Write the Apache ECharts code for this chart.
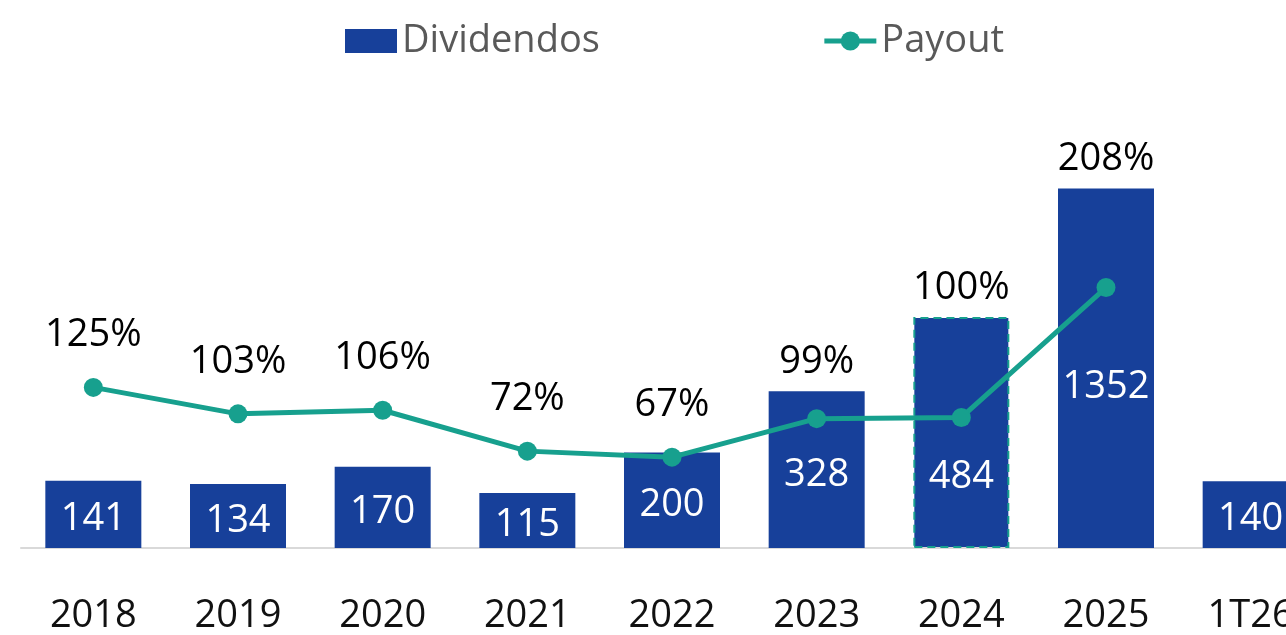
<!DOCTYPE html>
<html>
<head>
<meta charset="utf-8">
<script src="https://cdn.jsdelivr.net/npm/echarts@6/dist/echarts.min.js"></script>
<style>
html,body{margin:0;padding:0;background:#fff;overflow:hidden;width:1286px;height:635px;}
#chart{width:1323px;height:635px;}
</style>
</head>
<body>
<div id="chart"></div>
<script>
var categories = ['2018','2019','2020','2021','2022','2023','2024','2025','1T26'];
var dividendos = [141, 134, 170, 115, 200, 328, 484, 1352, 140];
var payout = [125, 103, 106, 72, 67, 99, 100, 208, null];

var FONT = '"Open Sans", "Noto Sans", sans-serif';
var BLUE = '#17409a';
var TEAL = '#17a08e';
var BASE_Y = 553;

var chart = echarts.init(document.getElementById('chart'), null, {renderer: 'canvas'});

function buildOption(barOffsets, lineOffsets) {
  return {
    animation: false,
    backgroundColor: '#ffffff',
    legend: {
      left: 340,
      top: 17,
      itemWidth: 52,
      itemHeight: 24,
      itemGap: 222,
      textStyle: {fontFamily: FONT, fontSize: 38, color: '#595959'},
      data: [
        {name: 'Dividendos', icon: 'rect'},
        {name: 'Payout', lineStyle: {width: 5, color: TEAL}, itemStyle: {color: TEAL}}
      ]
    },
    grid: {left: 21, right: 0, top: 102, bottom: 635 - BASE_Y, containLabel: false},
    xAxis: {
      type: 'category',
      data: categories,
      boundaryGap: true,
      axisLine: {show: true, lineStyle: {color: '#d9d9d9', width: 2}},
      axisTick: {show: false},
      axisLabel: {
        fontFamily: FONT, fontSize: 38, color: '#111111', margin: 49,
        interval: 0
      }
    },
    yAxis: [
      {
        type: 'value', min: 0, max: 1533, show: false,
        splitLine: {show: false},
        breaks: [{start: 700, end: 1299, gap: 0}],
        breakArea: {show: false}
      },
      {
        type: 'value', min: -8.55, max: 362.3, show: false,
        splitLine: {show: false}
      }
    ],
    series: [
      {
        name: 'Dividendos',
        type: 'bar',
        yAxisIndex: 0,
        barWidth: 96,
        itemStyle: {color: BLUE},
        data: dividendos.map(function (v, i) {
          var item = {value: v, label: {offset: [0, barOffsets[i] || 0]}};
          if (categories[i] === '2024') {
            item.itemStyle = {color: BLUE, borderColor: TEAL, borderWidth: 2, borderType: [8, 5]};
          }
          return item;
        }),
        label: {
          show: true, position: 'inside',
          fontFamily: FONT, fontSize: 38, color: '#ffffff'
        },
        z: 2
      },
      {
        name: 'Payout',
        type: 'line',
        yAxisIndex: 1,
        symbol: 'circle',
        symbolSize: 19,
        lineStyle: {color: TEAL, width: 5},
        itemStyle: {color: TEAL},
        data: payout.map(function (v, i) {
          return {value: v, label: {offset: [0, lineOffsets[i] || 0]}};
        }),
        label: {
          show: true, position: 'inside',
          fontFamily: FONT, fontSize: 38, color: '#000000',
          formatter: function (p) { return p.value + '%'; }
        },
        z: 3
      }
    ]
  };
}

chart.setOption(buildOption([], []));

// Compute label offsets through the chart's own scales
var barOffsets = [], lineOffsets = [];
for (var i = 0; i < categories.length; i++) {
  var barTop = chart.convertToPixel({seriesIndex: 0}, [i, dividendos[i]])[1];
  var barCenter = (barTop + BASE_Y) / 2;
  if (payout[i] == null) { barOffsets.push(5); lineOffsets.push(0); continue; }
  var pt = chart.convertToPixel({seriesIndex: 1}, [i, payout[i]])[1];
  var desired = Math.min(pt - 52, barTop - 29);
  lineOffsets.push(desired - pt);
  if (Math.abs(barCenter - pt) < 40) {
    barOffsets.push(pt + 62 - barCenter);
  } else if (pt < barCenter - 60 && barTop < pt - 60) {
    barOffsets.push(19);
  } else {
    barOffsets.push(5);
  }
}
chart.setOption(buildOption(barOffsets, lineOffsets));
</script>
</body>
</html>
